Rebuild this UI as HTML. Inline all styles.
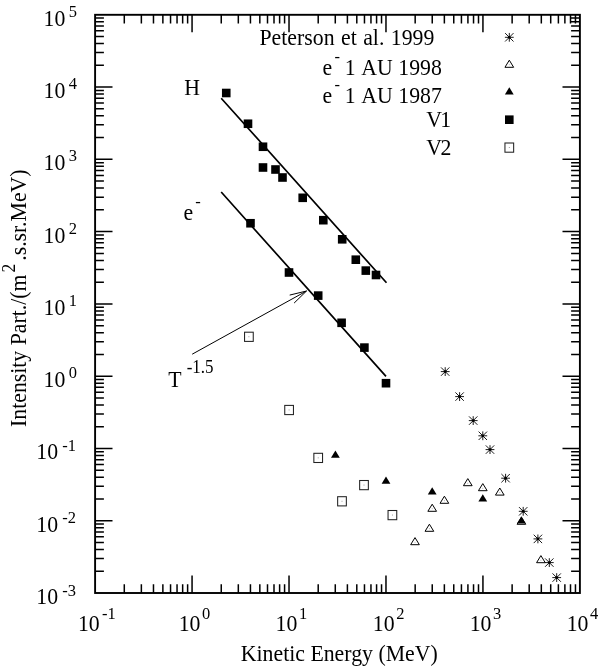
<!DOCTYPE html>
<html lang="en"><head><meta charset="utf-8"><title>Intensity vs Kinetic Energy</title>
<style>html,body{margin:0;padding:0;background:#fff}svg{display:block}text{font-family:"Liberation Serif","DejaVu Serif",serif;fill:#000}</style>
</head><body>
<svg width="600" height="667" viewBox="0 0 600 667">
<rect x="0" y="0" width="600" height="667" fill="#fff"/>
<rect x="95.1" y="14.8" width="484.80" height="578.20" fill="none" stroke="#000" stroke-width="1.9"/>
<path d="M124.29 593.0v-8.8M124.29 14.8v8.8M141.36 593.0v-8.8M141.36 14.8v8.8M153.48 593.0v-8.8M153.48 14.8v8.8M162.87 593.0v-8.8M162.87 14.8v8.8M170.55 593.0v-8.8M170.55 14.8v8.8M177.04 593.0v-8.8M177.04 14.8v8.8M182.66 593.0v-8.8M182.66 14.8v8.8M187.62 593.0v-8.8M187.62 14.8v8.8M192.06 593.0v-17.4M192.06 14.8v17.4M221.25 593.0v-8.8M221.25 14.8v8.8M238.32 593.0v-8.8M238.32 14.8v8.8M250.44 593.0v-8.8M250.44 14.8v8.8M259.83 593.0v-8.8M259.83 14.8v8.8M267.51 593.0v-8.8M267.51 14.8v8.8M274.00 593.0v-8.8M274.00 14.8v8.8M279.62 593.0v-8.8M279.62 14.8v8.8M284.58 593.0v-8.8M284.58 14.8v8.8M289.02 593.0v-17.4M289.02 14.8v17.4M318.21 593.0v-8.8M318.21 14.8v8.8M335.28 593.0v-8.8M335.28 14.8v8.8M347.40 593.0v-8.8M347.40 14.8v8.8M356.79 593.0v-8.8M356.79 14.8v8.8M364.47 593.0v-8.8M364.47 14.8v8.8M370.96 593.0v-8.8M370.96 14.8v8.8M376.58 593.0v-8.8M376.58 14.8v8.8M381.54 593.0v-8.8M381.54 14.8v8.8M385.98 593.0v-17.4M385.98 14.8v17.4M415.17 593.0v-8.8M415.17 14.8v8.8M432.24 593.0v-8.8M432.24 14.8v8.8M444.36 593.0v-8.8M444.36 14.8v8.8M453.75 593.0v-8.8M453.75 14.8v8.8M461.43 593.0v-8.8M461.43 14.8v8.8M467.92 593.0v-8.8M467.92 14.8v8.8M473.54 593.0v-8.8M473.54 14.8v8.8M478.50 593.0v-8.8M478.50 14.8v8.8M482.94 593.0v-17.4M482.94 14.8v17.4M512.13 593.0v-8.8M512.13 14.8v8.8M529.20 593.0v-8.8M529.20 14.8v8.8M541.32 593.0v-8.8M541.32 14.8v8.8M550.71 593.0v-8.8M550.71 14.8v8.8M558.39 593.0v-8.8M558.39 14.8v8.8M564.88 593.0v-8.8M564.88 14.8v8.8M570.50 593.0v-8.8M570.50 14.8v8.8M575.46 593.0v-8.8M575.46 14.8v8.8M95.1 571.24h8.8M579.9 571.24h-8.8M95.1 558.52h8.8M579.9 558.52h-8.8M95.1 549.49h8.8M579.9 549.49h-8.8M95.1 542.48h8.8M579.9 542.48h-8.8M95.1 536.76h8.8M579.9 536.76h-8.8M95.1 531.92h8.8M579.9 531.92h-8.8M95.1 527.73h8.8M579.9 527.73h-8.8M95.1 524.03h8.8M579.9 524.03h-8.8M95.1 520.73h17.4M579.9 520.73h-17.4M95.1 498.97h8.8M579.9 498.97h-8.8M95.1 486.24h8.8M579.9 486.24h-8.8M95.1 477.21h8.8M579.9 477.21h-8.8M95.1 470.21h8.8M579.9 470.21h-8.8M95.1 464.48h8.8M579.9 464.48h-8.8M95.1 459.65h8.8M579.9 459.65h-8.8M95.1 455.45h8.8M579.9 455.45h-8.8M95.1 451.76h8.8M579.9 451.76h-8.8M95.1 448.45h17.4M579.9 448.45h-17.4M95.1 426.69h8.8M579.9 426.69h-8.8M95.1 413.97h8.8M579.9 413.97h-8.8M95.1 404.94h8.8M579.9 404.94h-8.8M95.1 397.93h8.8M579.9 397.93h-8.8M95.1 392.21h8.8M579.9 392.21h-8.8M95.1 387.37h8.8M579.9 387.37h-8.8M95.1 383.18h8.8M579.9 383.18h-8.8M95.1 379.48h8.8M579.9 379.48h-8.8M95.1 376.17h17.4M579.9 376.17h-17.4M95.1 354.42h8.8M579.9 354.42h-8.8M95.1 341.69h8.8M579.9 341.69h-8.8M95.1 332.66h8.8M579.9 332.66h-8.8M95.1 325.66h8.8M579.9 325.66h-8.8M95.1 319.93h8.8M579.9 319.93h-8.8M95.1 315.10h8.8M579.9 315.10h-8.8M95.1 310.90h8.8M579.9 310.90h-8.8M95.1 307.21h8.8M579.9 307.21h-8.8M95.1 303.90h17.4M579.9 303.90h-17.4M95.1 282.14h8.8M579.9 282.14h-8.8M95.1 269.42h8.8M579.9 269.42h-8.8M95.1 260.39h8.8M579.9 260.39h-8.8M95.1 253.38h8.8M579.9 253.38h-8.8M95.1 247.66h8.8M579.9 247.66h-8.8M95.1 242.82h8.8M579.9 242.82h-8.8M95.1 238.63h8.8M579.9 238.63h-8.8M95.1 234.93h8.8M579.9 234.93h-8.8M95.1 231.62h17.4M579.9 231.62h-17.4M95.1 209.87h8.8M579.9 209.87h-8.8M95.1 197.14h8.8M579.9 197.14h-8.8M95.1 188.11h8.8M579.9 188.11h-8.8M95.1 181.11h8.8M579.9 181.11h-8.8M95.1 175.38h8.8M579.9 175.38h-8.8M95.1 170.55h8.8M579.9 170.55h-8.8M95.1 166.35h8.8M579.9 166.35h-8.8M95.1 162.66h8.8M579.9 162.66h-8.8M95.1 159.35h17.4M579.9 159.35h-17.4M95.1 137.59h8.8M579.9 137.59h-8.8M95.1 124.87h8.8M579.9 124.87h-8.8M95.1 115.84h8.8M579.9 115.84h-8.8M95.1 108.83h8.8M579.9 108.83h-8.8M95.1 103.11h8.8M579.9 103.11h-8.8M95.1 98.27h8.8M579.9 98.27h-8.8M95.1 94.08h8.8M579.9 94.08h-8.8M95.1 90.38h8.8M579.9 90.38h-8.8M95.1 87.07h17.4M579.9 87.07h-17.4M95.1 65.32h8.8M579.9 65.32h-8.8M95.1 52.59h8.8M579.9 52.59h-8.8M95.1 43.56h8.8M579.9 43.56h-8.8M95.1 36.56h8.8M579.9 36.56h-8.8M95.1 30.83h8.8M579.9 30.83h-8.8M95.1 26.00h8.8M579.9 26.00h-8.8M95.1 21.80h8.8M579.9 21.80h-8.8M95.1 18.11h8.8M579.9 18.11h-8.8" stroke="#000" stroke-width="1.5" fill="none"/>
<text transform="translate(43.6 25.7) scale(1 1.075)" font-size="21.8">10</text>
<text transform="translate(68.8 16.7) scale(1 1.075)" font-size="16.5">5</text>
<text transform="translate(43.6 98.0) scale(1 1.075)" font-size="21.8">10</text>
<text transform="translate(68.8 89.0) scale(1 1.075)" font-size="16.5">4</text>
<text transform="translate(43.6 170.3) scale(1 1.075)" font-size="21.8">10</text>
<text transform="translate(68.8 161.3) scale(1 1.075)" font-size="16.5">3</text>
<text transform="translate(43.6 242.5) scale(1 1.075)" font-size="21.8">10</text>
<text transform="translate(68.8 233.5) scale(1 1.075)" font-size="16.5">2</text>
<text transform="translate(43.6 314.8) scale(1 1.075)" font-size="21.8">10</text>
<text transform="translate(68.8 305.8) scale(1 1.075)" font-size="16.5">1</text>
<text transform="translate(43.6 387.1) scale(1 1.075)" font-size="21.8">10</text>
<text transform="translate(68.8 378.1) scale(1 1.075)" font-size="16.5">0</text>
<text transform="translate(36.3 459.4) scale(1 1.075)" font-size="21.8">10</text>
<text transform="translate(62.3 451.1) scale(1 1.075)" font-size="16.5">-1</text>
<text transform="translate(36.3 531.6) scale(1 1.075)" font-size="21.8">10</text>
<text transform="translate(62.3 523.3) scale(1 1.075)" font-size="16.5">-2</text>
<text transform="translate(36.3 603.9) scale(1 1.075)" font-size="21.8">10</text>
<text transform="translate(62.3 595.6) scale(1 1.075)" font-size="16.5">-3</text>
<text transform="translate(77.9 631.0) scale(1 1.075)" font-size="21.8">10</text>
<text transform="translate(101.9 618.5) scale(1 1.075)" font-size="16.5">-1</text>
<text transform="translate(178.7 631.0) scale(1 1.075)" font-size="21.8">10</text>
<text transform="translate(202.1 618.6) scale(1 1.075)" font-size="16.5">0</text>
<text transform="translate(275.6 631.0) scale(1 1.075)" font-size="21.8">10</text>
<text transform="translate(299.0 618.6) scale(1 1.075)" font-size="16.5">1</text>
<text transform="translate(372.8 631.0) scale(1 1.075)" font-size="21.8">10</text>
<text transform="translate(396.2 618.6) scale(1 1.075)" font-size="16.5">2</text>
<text transform="translate(469.7 631.0) scale(1 1.075)" font-size="21.8">10</text>
<text transform="translate(493.1 618.6) scale(1 1.075)" font-size="16.5">3</text>
<text transform="translate(566.7 631.0) scale(1 1.075)" font-size="21.8">10</text>
<text transform="translate(590.1 618.6) scale(1 1.075)" font-size="16.5">4</text>
<text transform="translate(240.8 660.8) scale(1 1.075)" font-size="21.8">Kinetic Energy (MeV)</text>
<text transform="translate(25.8 427.0) rotate(-90) scale(1 1.075)" font-size="21.8">Intensity Part./(m</text>
<text transform="translate(14.9 272.6) rotate(-90) scale(1 1.075)" font-size="17.5">2</text>
<text transform="translate(25.8 260.8) rotate(-90) scale(1 1.075)" font-size="21.8">.s.sr.MeV)</text>
<path d="M221.2 98.2L386.5 282.8M221.2 192L386 376.4" stroke="#000" stroke-width="1.7" fill="none"/>
<path d="M192.2 354.2L306.5 291.0M294.11 303.07L306.5 291.0M289.69 295.08L306.5 291.0" stroke="#000" stroke-width="1.0" fill="none"/>
<path d="M415.00 537.60L419.35 544.70H410.65Z" fill="#fff" stroke="#000" stroke-width="1.0" stroke-linejoin="miter"/><rect x="414.55" y="541.85" width="0.9" height="0.7" fill="#888"/>
<path d="M429.40 524.20L433.75 531.30H425.05Z" fill="#fff" stroke="#000" stroke-width="1.0" stroke-linejoin="miter"/><rect x="428.95" y="528.45" width="0.9" height="0.7" fill="#888"/>
<path d="M432.20 504.20L436.55 511.30H427.85Z" fill="#fff" stroke="#000" stroke-width="1.0" stroke-linejoin="miter"/><rect x="431.75" y="508.45" width="0.9" height="0.7" fill="#888"/>
<path d="M444.40 496.20L448.75 503.30H440.05Z" fill="#fff" stroke="#000" stroke-width="1.0" stroke-linejoin="miter"/><rect x="443.95" y="500.45" width="0.9" height="0.7" fill="#888"/>
<path d="M467.80 478.60L472.15 485.70H463.45Z" fill="#fff" stroke="#000" stroke-width="1.0" stroke-linejoin="miter"/><rect x="467.35" y="482.85" width="0.9" height="0.7" fill="#888"/>
<path d="M482.80 483.60L487.15 490.70H478.45Z" fill="#fff" stroke="#000" stroke-width="1.0" stroke-linejoin="miter"/><rect x="482.35" y="487.85" width="0.9" height="0.7" fill="#888"/>
<path d="M499.80 488.00L504.15 495.10H495.45Z" fill="#fff" stroke="#000" stroke-width="1.0" stroke-linejoin="miter"/><rect x="499.35" y="492.25" width="0.9" height="0.7" fill="#888"/>
<path d="M521.40 517.20L525.75 524.30H517.05Z" fill="#fff" stroke="#000" stroke-width="1.0" stroke-linejoin="miter"/><rect x="520.95" y="521.45" width="0.9" height="0.7" fill="#888"/>
<path d="M540.90 555.60L545.25 562.70H536.55Z" fill="#fff" stroke="#000" stroke-width="1.0" stroke-linejoin="miter"/><rect x="540.45" y="559.85" width="0.9" height="0.7" fill="#888"/>
<rect x="244.55" y="332.20" width="8.7" height="9.2" fill="#fff" stroke="#222" stroke-width="1.05"/><rect x="248.45" y="336.30" width="0.9" height="0.9" fill="#888"/>
<rect x="284.75" y="405.40" width="8.7" height="9.2" fill="#fff" stroke="#222" stroke-width="1.05"/><rect x="288.65" y="409.50" width="0.9" height="0.9" fill="#888"/>
<rect x="313.85" y="453.30" width="8.7" height="9.2" fill="#fff" stroke="#222" stroke-width="1.05"/><rect x="317.75" y="457.40" width="0.9" height="0.9" fill="#888"/>
<rect x="359.65" y="480.50" width="8.7" height="9.2" fill="#fff" stroke="#222" stroke-width="1.05"/><rect x="363.55" y="484.60" width="0.9" height="0.9" fill="#888"/>
<rect x="337.65" y="496.70" width="8.7" height="9.2" fill="#fff" stroke="#222" stroke-width="1.05"/><rect x="341.55" y="500.80" width="0.9" height="0.9" fill="#888"/>
<rect x="388.05" y="510.50" width="8.7" height="9.2" fill="#fff" stroke="#222" stroke-width="1.05"/><rect x="391.95" y="514.60" width="0.9" height="0.9" fill="#888"/>
<path d="M335.40 450.60L339.80 457.80H331.00Z" fill="#000"/>
<path d="M386.00 476.50L390.40 483.70H381.60Z" fill="#000"/>
<path d="M432.20 487.30L436.60 494.50H427.80Z" fill="#000"/>
<path d="M482.80 494.20L487.20 501.40H478.40Z" fill="#000"/>
<path d="M521.40 516.30L525.80 523.50H517.00Z" fill="#000"/>
<rect x="221.95" y="88.70" width="8.6" height="8.6" fill="#000"/>
<rect x="243.70" y="119.45" width="8.6" height="8.6" fill="#000"/>
<rect x="258.70" y="142.45" width="8.6" height="8.6" fill="#000"/>
<rect x="258.70" y="163.20" width="8.6" height="8.6" fill="#000"/>
<rect x="271.20" y="165.20" width="8.6" height="8.6" fill="#000"/>
<rect x="278.20" y="173.20" width="8.6" height="8.6" fill="#000"/>
<rect x="298.40" y="193.50" width="8.6" height="8.6" fill="#000"/>
<rect x="319.00" y="215.90" width="8.6" height="8.6" fill="#000"/>
<rect x="337.90" y="235.00" width="8.6" height="8.6" fill="#000"/>
<rect x="351.50" y="255.40" width="8.6" height="8.6" fill="#000"/>
<rect x="361.50" y="266.30" width="8.6" height="8.6" fill="#000"/>
<rect x="371.70" y="270.70" width="8.6" height="8.6" fill="#000"/>
<rect x="246.20" y="218.95" width="8.6" height="8.6" fill="#000"/>
<rect x="284.70" y="268.20" width="8.6" height="8.6" fill="#000"/>
<rect x="313.90" y="291.30" width="8.6" height="8.6" fill="#000"/>
<rect x="337.30" y="318.50" width="8.6" height="8.6" fill="#000"/>
<rect x="360.10" y="343.30" width="8.6" height="8.6" fill="#000"/>
<rect x="381.70" y="378.90" width="8.6" height="8.6" fill="#000"/>
<path d="M440.80 371.60h8.8M445.20 367.20v8.8M441.00 367.40l8.40 8.40M441.00 375.80l8.40 -8.40" stroke="#000" stroke-width="0.9" fill="none"/><circle cx="445.20" cy="371.60" r="1.4" fill="#000"/>
<path d="M455.20 396.60h8.8M459.60 392.20v8.8M455.40 392.40l8.40 8.40M455.40 400.80l8.40 -8.40" stroke="#000" stroke-width="0.9" fill="none"/><circle cx="459.60" cy="396.60" r="1.4" fill="#000"/>
<path d="M468.80 420.60h8.8M473.20 416.20v8.8M469.00 416.40l8.40 8.40M469.00 424.80l8.40 -8.40" stroke="#000" stroke-width="0.9" fill="none"/><circle cx="473.20" cy="420.60" r="1.4" fill="#000"/>
<path d="M478.40 435.80h8.8M482.80 431.40v8.8M478.60 431.60l8.40 8.40M478.60 440.00l8.40 -8.40" stroke="#000" stroke-width="0.9" fill="none"/><circle cx="482.80" cy="435.80" r="1.4" fill="#000"/>
<path d="M485.60 449.60h8.8M490.00 445.20v8.8M485.80 445.40l8.40 8.40M485.80 453.80l8.40 -8.40" stroke="#000" stroke-width="0.9" fill="none"/><circle cx="490.00" cy="449.60" r="1.4" fill="#000"/>
<path d="M501.20 478.20h8.8M505.60 473.80v8.8M501.40 474.00l8.40 8.40M501.40 482.40l8.40 -8.40" stroke="#000" stroke-width="0.9" fill="none"/><circle cx="505.60" cy="478.20" r="1.4" fill="#000"/>
<path d="M518.80 511.30h8.8M523.20 506.90v8.8M519.00 507.10l8.40 8.40M519.00 515.50l8.40 -8.40" stroke="#000" stroke-width="0.9" fill="none"/><circle cx="523.20" cy="511.30" r="1.4" fill="#000"/>
<path d="M533.50 538.90h8.8M537.90 534.50v8.8M533.70 534.70l8.40 8.40M533.70 543.10l8.40 -8.40" stroke="#000" stroke-width="0.9" fill="none"/><circle cx="537.90" cy="538.90" r="1.4" fill="#000"/>
<path d="M544.90 562.60h8.8M549.30 558.20v8.8M545.10 558.40l8.40 8.40M545.10 566.80l8.40 -8.40" stroke="#000" stroke-width="0.9" fill="none"/><circle cx="549.30" cy="562.60" r="1.4" fill="#000"/>
<path d="M552.30 577.60h8.8M556.70 573.20v8.8M552.50 573.40l8.40 8.40M552.50 581.80l8.40 -8.40" stroke="#000" stroke-width="0.9" fill="none"/><circle cx="556.70" cy="577.60" r="1.4" fill="#000"/>
<path d="M504.90 37.30h8.8M509.30 32.90v8.8M505.10 33.10l8.40 8.40M505.10 41.50l8.40 -8.40" stroke="#000" stroke-width="0.9" fill="none"/><circle cx="509.30" cy="37.30" r="1.4" fill="#000"/>
<path d="M509.30 60.20L513.65 67.30H504.95Z" fill="#fff" stroke="#000" stroke-width="1.0" stroke-linejoin="miter"/><rect x="508.85" y="64.45" width="0.9" height="0.7" fill="#888"/>
<path d="M509.30 87.30L513.70 94.50H504.90Z" fill="#000"/>
<rect x="505.00" y="115.40" width="8.6" height="8.6" fill="#000"/>
<rect x="504.95" y="143.00" width="8.7" height="9.2" fill="#fff" stroke="#222" stroke-width="1.05"/><rect x="508.85" y="147.10" width="0.9" height="0.9" fill="#888"/>
<text word-spacing="1" transform="translate(259.5 44.8) scale(1 1.075)" font-size="21.8">Peterson et al. 1999</text>
<text transform="translate(322.5 74.5) scale(1 1.02)" font-size="21.8">e</text>
<text transform="translate(334.6 61.5) scale(1 1.075)" font-size="16.5">-</text>
<text transform="translate(344.8 74.5) scale(1 1.075)" font-size="21.8">1<tspan dx="1.4"> AU 1998</tspan></text>
<text transform="translate(322.5 102.7) scale(1 1.02)" font-size="21.8">e</text>
<text transform="translate(334.6 89.7) scale(1 1.075)" font-size="16.5">-</text>
<text transform="translate(344.8 102.7) scale(1 1.075)" font-size="21.8">1<tspan dx="1.4"> AU 1987</tspan></text>
<text transform="translate(426.3 127.3) scale(1 1.075)" font-size="21.8">V<tspan dx="-1.8">1</tspan></text>
<text transform="translate(426.3 154.8) scale(1 1.075)" font-size="21.8">V<tspan dx="-1.5">2</tspan></text>
<text transform="translate(184.3 94.8) scale(1 1.075)" font-size="21.8">H</text>
<text transform="translate(183.4 220.2) scale(1 1.02)" font-size="21.8">e</text>
<text transform="translate(195.2 207.2) scale(1 1.075)" font-size="16.5">-</text>
<text transform="translate(168.2 386.6) scale(1 1.075)" font-size="21.8">T</text>
<text transform="translate(186.7 373.3) scale(1 1.075)" font-size="17">-1.5</text>
</svg></body></html>
